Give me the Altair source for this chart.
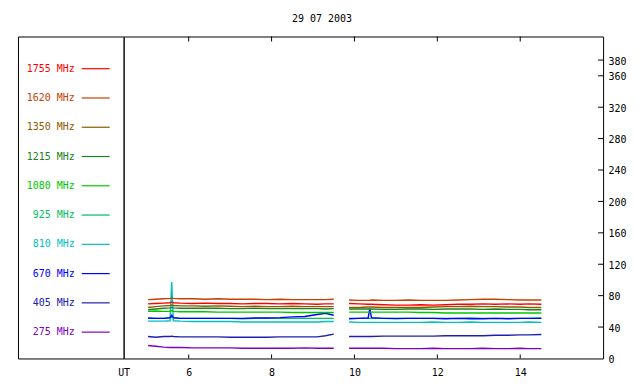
import altair as alt
import pandas as pd

FONT = "DejaVu Sans Mono"

title_text = "29 07 2003"
freqs = ["1755 MHz", "1620 MHz", "1350 MHz", "1215 MHz", "1080 MHz",
         "925 MHz", "810 MHz", "670 MHz", "405 MHz", "275 MHz"]
colors = ["#ff0000", "#c84000", "#8c5a00", "#208020", "#00c800",
          "#00c060", "#00c0c0", "#0000ff", "#2020b0", "#8000c0"]

# time (UT hours) of the two observing segments
t_seg1 = [5.02, 5.2, 5.4, 5.55, 5.59, 5.63, 5.8, 6.1, 6.4, 6.7, 7.0, 7.3, 7.6,
          7.9, 8.2, 8.5, 8.8, 9.1, 9.3, 9.5]
t_seg2 = [9.87, 10.1, 10.33, 10.37, 10.41, 10.7, 11.0, 11.3, 11.6, 11.9, 12.2,
          12.5, 12.8, 13.1, 13.4, 13.7, 14.0, 14.2, 14.51]

s1755_a = [69.5, 70, 70.5, 71, 72, 71, 70.5, 70, 70.5, 70, 70, 69.5, 70, 70, 69.5, 70, 69.5, 69, 69.5, 69.5]
s1755_b = [70, 69.5, 69, 69, 69, 68.5, 68, 68, 68.5, 68, 68.5, 69, 69, 69.5, 69, 69.5, 69, 69.5, 69]
s1620_a = [75, 75.5, 76, 76.5, 77, 76.5, 76, 76, 75.5, 76, 75.5, 75.5, 75.5, 75, 75.5, 75, 75, 75, 75, 75.5]
s1620_b = [74.5, 74, 74, 74, 74.5, 74, 74, 74.5, 74, 74, 74, 74.5, 75, 75.5, 75.5, 75, 74.5, 74.5, 74.5]
s1350_a = [65, 66, 67, 67.5, 68, 67.5, 67, 67, 66.5, 67, 66.5, 66, 66.5, 66, 66, 66.5, 66, 66, 66, 66]
s1350_b = [65, 65, 65.5, 65.5, 65.5, 65, 65, 65, 65, 65.5, 66, 66, 66.5, 66, 66, 65.5, 65.5, 65, 65]
s1215_a = [62, 63, 64, 64.5, 65, 64.5, 64, 64, 64, 64, 63.5, 63.5, 64, 63.5, 63.5, 63.5, 63.5, 63.5, 63, 63.5]
s1215_b = [63, 63, 63, 63, 63, 62.5, 62.5, 63, 63, 62.5, 63, 63, 63, 62.5, 63, 62.5, 62.5, 62, 62]
s1080_a = [60, 60.5, 60, 60, 61, 60, 59.5, 59.5, 59.5, 59, 59, 59, 59, 59, 59, 58.5, 58.5, 58.5, 58.5, 58.5]
s1080_b = [59, 59, 59, 59, 59, 59, 59, 59, 58.5, 58.5, 58, 58, 58, 58, 58, 58, 58, 58, 58]
s925_a = [51, 51, 51, 51.5, 53, 51.5, 51, 51, 51, 51, 51, 50.5, 51, 51, 51, 51, 51, 51, 51, 51]
s925_b = [51, 51, 51, 51, 51, 51, 50.5, 51, 51, 51, 51, 51, 51.5, 51, 51, 51, 51, 51, 51.5]
s810_a = [47.5, 47.5, 47.5, 48, 97.5, 48, 47.5, 47, 47, 47, 47, 46.5, 46.5, 46.5, 46.5, 46.5, 46.5, 46.5, 47, 47]
s810_b = [46.5, 46, 46, 46, 46, 46, 46, 46, 46, 46.5, 46, 46, 46.5, 46, 46, 46, 46, 46.5, 46]
s670_a = [51.5, 51, 51, 52, 55, 52, 51, 51, 51, 51, 51, 51, 51.5, 51.5, 52, 53, 53.5, 56, 57.5, 55]
s670_b = [50.5, 51, 51.5, 63.5, 52, 51, 51, 51, 51, 51, 50.5, 51, 50.5, 50.5, 51, 50.5, 51, 51, 51]
s405_a = [28, 27, 28, 28, 28.5, 28, 27.5, 27.5, 27.5, 27.5, 27, 27, 27, 27, 27.5, 27.5, 27.5, 27.5, 29, 31]
s405_b = [28, 28, 28, 28, 28, 28.5, 28.5, 28.5, 28.5, 28.5, 29, 29, 29, 29, 29.5, 29.5, 30, 30, 30.5]
s275_a = [16.5, 15.5, 14.5, 14, 14, 14, 14, 13.5, 13.5, 13.5, 13.5, 13, 13, 13, 13, 13, 13.5, 13, 13, 13]
s275_b = [13, 13, 13, 13, 13, 13, 12.5, 12.5, 12.5, 13, 12.5, 12.5, 12.5, 13, 12.5, 12.5, 13, 12.5, 12.5]

x_ticks = [6, 8, 10, 12, 14]
y_ticks = [0, 40, 80, 120, 160, 200, 240, 280, 320, 360, 380]
x_domain = [4.43, 16.0]
y_domain = [0, 410]

series = [
    ("275 MHz", s275_a, s275_b),
    ("405 MHz", s405_a, s405_b),
    ("810 MHz", s810_a, s810_b),
    ("925 MHz", s925_a, s925_b),
    ("670 MHz", s670_a, s670_b),
    ("1080 MHz", s1080_a, s1080_b),
    ("1215 MHz", s1215_a, s1215_b),
    ("1350 MHz", s1350_a, s1350_b),
    ("1755 MHz", s1755_a, s1755_b),
    ("1620 MHz", s1620_a, s1620_b),
]

rows = []
for order, (name, a, b) in enumerate(series):
    for t, v in zip(t_seg1, a):
        rows.append({"freq": name, "t": t, "v": v, "seg": f"{name}-1", "o": order})
    for t, v in zip(t_seg2, b):
        rows.append({"freq": name, "t": t, "v": v, "seg": f"{name}-2", "o": order})
df = pd.DataFrame(rows)

W, H = 481, 323
color_scale = alt.Scale(domain=freqs, range=colors)
xs = alt.Scale(domain=x_domain, nice=False, zero=False)
ys = alt.Scale(domain=y_domain, nice=False, zero=False)

x_axis = alt.Axis(values=[x_domain[0]] + x_ticks, format="d",
                  labelExpr="datum.value < 5 ? 'UT' : datum.label",
                  ticks=False, domain=False, grid=False,
                  labelFlush=False, labelPadding=9, title=None)
y_axis = alt.Axis(orient="right", values=y_ticks, ticks=False,
                  domain=False, grid=False, labelPadding=5, labelOffset=1,
                  title=None)

lines = alt.Chart(df).mark_line(strokeWidth=1.4).encode(
    x=alt.X("t:Q", scale=xs, axis=x_axis),
    y=alt.Y("v:Q", scale=ys, axis=y_axis),
    color=alt.Color("freq:N", scale=color_scale, legend=None),
    detail="seg:N",
    order="o:Q",
)

xt_df = pd.DataFrame({"t": x_ticks})
yt_df = pd.DataFrame({"v": y_ticks[1:]})

bot_ticks = alt.Chart(xt_df).mark_rule(color="black").encode(
    x=alt.X("t:Q", scale=xs, axis=x_axis), y=alt.value(H - 4), y2=alt.value(H))
top_ticks = alt.Chart(xt_df).mark_rule(color="black").encode(
    x=alt.X("t:Q", scale=xs, axis=x_axis), y=alt.value(0), y2=alt.value(5))
right_ticks = alt.Chart(yt_df).mark_rule(color="black").encode(
    y=alt.Y("v:Q", scale=ys, axis=y_axis), x=alt.value(W - 5), x2=alt.value(W))
divider = alt.Chart(pd.DataFrame({"d": [0]})).mark_rule(color="#666666").encode(
    x=alt.value(0), y=alt.value(0), y2=alt.value(H))

main = alt.layer(lines, bot_ticks, top_ticks, right_ticks, divider).properties(
    width=W, height=H)

legend_df = pd.DataFrame({"freq": freqs})
ly = alt.Y("freq:N", sort=freqs,
           scale=alt.Scale(type="point", padding=1.02, align=0.55), axis=None)
leg_text = alt.Chart(legend_df).mark_text(
    align="right", baseline="middle", font=FONT, fontSize=10).encode(
    x=alt.value(57), y=ly, text="freq:N",
    color=alt.Color("freq:N", scale=color_scale, legend=None))
leg_line = alt.Chart(legend_df).mark_rule(strokeWidth=1.2).encode(
    x=alt.value(64), x2=alt.value(92), y=ly,
    color=alt.Color("freq:N", scale=color_scale, legend=None))
legend = alt.layer(leg_text, leg_line).properties(width=106, height=H)

chart = alt.hconcat(legend, main, spacing=0, bounds="flush").properties(
    title=alt.TitleParams(text=title_text, font=FONT, fontSize=10,
                          fontWeight="normal", anchor="middle", offset=12,
                          color="black"),
    padding={"left": 9, "top": 5, "right": 5, "bottom": 3},
).configure_view(stroke="black", strokeWidth=1).configure_axis(
    labelFont=FONT, labelFontSize=10, labelColor="black")

chart.save("out.html", embed_options={"renderer": "svg", "actions": False})
